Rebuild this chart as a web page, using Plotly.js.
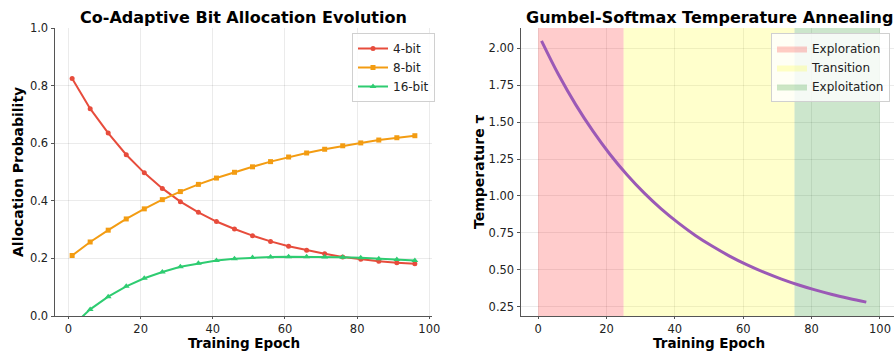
<!DOCTYPE html>
<html>
<head>
<meta charset="utf-8">
<script src="https://cdn.plot.ly/plotly-3.0.1.min.js"></script>
<style>html,body{margin:0;padding:0;background:#fff;}#chart{width:894px;height:352px;}</style>
</head>
<body>
<div id="chart"></div>
<script>
// ---- data ----
const epochs = [1, 6, 11, 16, 21, 26, 31, 36, 41, 46, 51, 56, 61, 66, 71, 76, 81, 86, 91, 96];
const prob4 = [0.825, 0.720, 0.635, 0.560, 0.497, 0.443, 0.397, 0.360, 0.328, 0.302, 0.279, 0.259, 0.242, 0.228, 0.216, 0.205, 0.197, 0.190, 0.185, 0.181];
const prob8 = [0.210, 0.257, 0.298, 0.337, 0.372, 0.404, 0.432, 0.457, 0.479, 0.499, 0.518, 0.536, 0.552, 0.566, 0.579, 0.591, 0.601, 0.611, 0.619, 0.626];
const prob16 = [-0.035, 0.023, 0.067, 0.103, 0.131, 0.153, 0.171, 0.183, 0.193, 0.199, 0.203, 0.205, 0.206, 0.206, 0.205, 0.204, 0.202, 0.199, 0.196, 0.193];
const tau = [2.051, 1.821, 1.619, 1.441, 1.283, 1.144, 1.021, 0.913, 0.818, 0.733, 0.659, 0.593, 0.535, 0.484, 0.439, 0.399, 0.364, 0.333, 0.306, 0.281];
const phaseNames = ["Exploration", "Transition", "Exploitation"];
const phaseStart = [0, 25, 75];
const phaseEnd = [25, 75, 100];
const phaseColors = ["rgba(255,0,0,0.2)", "rgba(255,255,0,0.2)", "rgba(0,128,0,0.2)"];

const W = 894, H = 352;
const TOP = 28, BOT = 316;
const FONT = "DejaVu Sans, sans-serif";
const y2Range = [0.187, 2.138];
const py = p => (BOT - p) / (BOT - TOP);   // pixel row -> paper y

const traces = [];
// phase regions (right panel)
for (let i = 0; i < phaseNames.length; i++) {
  traces.push({
    x: [phaseStart[i], phaseStart[i], phaseEnd[i], phaseEnd[i], phaseStart[i]],
    y: [y2Range[0], y2Range[1], y2Range[1], y2Range[0], y2Range[0]],
    xaxis: "x2", yaxis: "y2", mode: "lines", fill: "toself",
    fillcolor: phaseColors[i], line: {width: 0, color: phaseColors[i]},
    name: phaseNames[i], legend: "legend2", hoverinfo: "skip"
  });
}
traces.push({
  x: epochs, y: tau, xaxis: "x2", yaxis: "y2", mode: "lines",
  line: {color: "#9b59b6", width: 3, shape: "spline"}, showlegend: false
});
// left panel
traces.push({x: epochs, y: prob4, mode: "lines+markers", name: "4-bit",
  line: {color: "#e74c3c", width: 2}, marker: {symbol: "circle", size: 5, color: "#e74c3c"}});
traces.push({x: epochs, y: prob8, mode: "lines+markers", name: "8-bit",
  line: {color: "#f39c12", width: 2}, marker: {symbol: "square", size: 5, color: "#f39c12"}});
traces.push({x: epochs, y: prob16, mode: "lines+markers", name: "16-bit",
  line: {color: "#2ecc71", width: 2}, marker: {symbol: "triangle-up", size: 6, color: "#2ecc71"}});

const axBase = {
  showgrid: true, gridcolor: "rgba(0,0,0,0.08)", gridwidth: 1,
  showline: true, linecolor: "#555", linewidth: 1,
  ticks: "outside", ticklen: 2, tickcolor: "#555",
  tickfont: {family: FONT, size: 11.5, color: "#222"},
  zeroline: false, mirror: false, automargin: false
};

const layout = {
  width: W, height: H,
  margin: {l: 0, r: 0, t: TOP, b: H - BOT, autoexpand: false},
  paper_bgcolor: "#fff", plot_bgcolor: "#fff",
  font: {family: FONT, color: "#222"},
  xaxis: Object.assign({}, axBase, {domain: [55 / W, 432 / W], range: [-3.75, 100.75], tickvals: [0, 20, 40, 60, 80, 100], anchor: "y"}),
  yaxis: Object.assign({}, axBase, {range: [0, 1], tickvals: [0, 0.2, 0.4, 0.6, 0.8, 1.0], ticktext: ["0.0", "0.2", "0.4", "0.6", "0.8", "1.0"], anchor: "x", ticklen: 3.5}),
  xaxis2: Object.assign({}, axBase, {domain: [521 / W, 1], range: [-5, 104.1], tickvals: [0, 20, 40, 60, 80, 100], anchor: "y2"}),
  yaxis2: Object.assign({}, axBase, {range: y2Range, tickvals: [0.25, 0.5, 0.75, 1.0, 1.25, 1.5, 1.75, 2.0], ticktext: ["0.25", "0.50", "0.75", "1.00", "1.25", "1.50", "1.75", "2.00"], anchor: "x2", ticklen: 3.5}),
  showlegend: true,
  legend: {x: 352 / W, y: py(33), xanchor: "left", yanchor: "top", bgcolor: "rgba(255,255,255,0.85)", bordercolor: "#d0d0d0", borderwidth: 1, font: {family: FONT, size: 12, color: "#222"}, itemwidth: 30, tracegroupgap: 0},
  legend2: {x: 890 / W, y: py(33), xanchor: "right", yanchor: "top", bgcolor: "rgba(255,255,255,0.8)", bordercolor: "#d0d0d0", borderwidth: 1, font: {family: FONT, size: 12, color: "#222"}, itemwidth: 30},
  annotations: [
    {text: "<b>Co-Adaptive Bit Allocation Evolution</b>", xref: "paper", yref: "paper", x: 243.5 / W, y: py(17), xanchor: "center", yanchor: "middle", showarrow: false, font: {family: FONT, size: 16, color: "#000"}},
    {text: "<b>Gumbel-Softmax Temperature Annealing</b>", xref: "paper", yref: "paper", x: 709 / W, y: py(17), xanchor: "center", yanchor: "middle", showarrow: false, font: {family: FONT, size: 16, color: "#000"}},
    {text: "<b>Training Epoch</b>", xref: "paper", yref: "paper", x: 243.5 / W, y: py(352), xanchor: "center", yanchor: "bottom", borderpad: 0, showarrow: false, font: {family: FONT, size: 13.5, color: "#000"}},
    {text: "<b>Training Epoch</b>", xref: "paper", yref: "paper", x: 709 / W, y: py(352), xanchor: "center", yanchor: "bottom", borderpad: 0, showarrow: false, font: {family: FONT, size: 13.5, color: "#000"}},
    {text: "<b>Allocation Probability</b>", xref: "paper", yref: "paper", x: 18 / W, y: py(172), xanchor: "center", yanchor: "middle", textangle: -90, showarrow: false, font: {family: FONT, size: 14, color: "#000"}},
    {text: "<b>Temperature τ</b>", xref: "paper", yref: "paper", x: 479 / W, y: py(172), xanchor: "center", yanchor: "middle", textangle: -90, showarrow: false, font: {family: FONT, size: 14, color: "#000"}}
  ]
};

Plotly.newPlot("chart", traces, layout, {displayModeBar: false, staticPlot: true});
</script>
</body>
</html>
